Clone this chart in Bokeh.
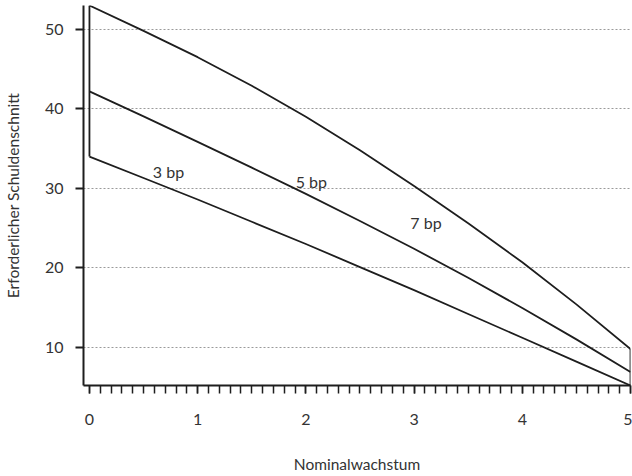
from bokeh.plotting import figure
from bokeh.models import Range1d, FixedTicker, ColumnDataSource
from bokeh.core.properties import value
from bokeh.embed import file_html
from bokeh.resources import INLINE

# --- data ---
growth = [0.0, 0.5, 1.0, 1.5, 2.0, 2.5, 3.0, 3.5, 4.0, 4.5, 5.0]
cut_3bp = [34.0, 31.3, 28.6, 25.8, 23.0, 20.1, 17.2, 14.2, 11.2, 8.2, 5.2]
cut_5bp = [42.2, 39.05, 35.85, 32.6, 29.3, 25.9, 22.4, 18.75, 14.95, 11.0, 6.9]
cut_7bp = [53.0, 49.8, 46.5, 42.9, 39.0, 34.8, 30.3, 25.6, 20.7, 15.4, 9.8]

label_texts = ["3 bp", "5 bp", "7 bp"]
label_x = [0.73, 2.05, 3.11]
label_y = [32.1, 30.9, 25.7]

x_ticks = [0, 1, 2, 3, 4, 5]
y_ticks = [10, 20, 30, 40, 50]
x_minor = [i / 10 for i in range(0, 51)]

FONT = "Lato"
TXT = "#333333"
LINE = "#1e1e1e"

p = figure(width=632, height=476, output_backend="svg", toolbar_location=None,
           x_range=Range1d(-0.055, 5.0), y_range=Range1d(5.2, 53.0),
           min_border_left=81, min_border_right=2, min_border_top=5,
           min_border_bottom=91)
p.outline_line_color = None
p.background_fill_color = "white"
p.border_fill_color = "white"

p.xgrid.visible = False
p.ygrid.ticker = FixedTicker(ticks=y_ticks)
p.ygrid.grid_line_color = "#9a9a9a"
p.ygrid.grid_line_dash = "2 2"
p.ygrid.grid_line_width = 1

# x axis
xa = p.xaxis[0]
xa.ticker = FixedTicker(ticks=x_ticks, minor_ticks=x_minor)
xa.axis_line_width = 2
xa.axis_line_color = LINE
xa.major_tick_in = 0
xa.major_tick_out = 8
xa.minor_tick_in = 0
xa.minor_tick_out = 8
xa.major_tick_line_width = 1.5
xa.minor_tick_line_width = 1.5
xa.major_tick_line_color = LINE
xa.minor_tick_line_color = LINE
xa.major_label_text_font = FONT
xa.major_label_text_font_size = "16px"
xa.major_label_text_color = TXT
xa.major_label_standoff = 20
xa.axis_label = "Nominalwachstum"
xa.axis_label_text_font = FONT
xa.axis_label_text_font_size = "15.5px"
xa.axis_label_text_font_style = "normal"
xa.axis_label_text_color = TXT
xa.axis_label_standoff = 27

# y axis
ya = p.yaxis[0]
ya.ticker = FixedTicker(ticks=y_ticks, minor_ticks=[])
ya.axis_line_width = 2
ya.axis_line_color = LINE
ya.major_tick_in = 0
ya.major_tick_out = 8
ya.minor_tick_in = 0
ya.minor_tick_out = 0
ya.major_tick_line_width = 2
ya.major_tick_line_color = LINE
ya.major_label_text_font = FONT
ya.major_label_text_font_size = "16px"
ya.major_label_text_color = TXT
ya.major_label_standoff = 12
ya.axis_label = "Erforderlicher Schuldenschnitt"
ya.axis_label_text_font = FONT
ya.axis_label_text_font_size = "15.5px"
ya.axis_label_text_font_style = "normal"
ya.axis_label_text_color = TXT
ya.axis_label_standoff = 20

# curves
for ys in (cut_3bp, cut_5bp, cut_7bp):
    p.line(growth, ys, line_color=LINE, line_width=1.8, line_join="round")

# envelope edges at both ends
p.line([growth[0], growth[0]], [cut_3bp[0], cut_7bp[0]], line_color=LINE, line_width=1.8)
p.line([growth[-1], growth[-1]], [cut_3bp[-1], cut_7bp[-1]], line_color=LINE, line_width=1.8)

src = ColumnDataSource(dict(x=label_x, y=label_y, t=label_texts))
p.text(x="x", y="y", text="t", source=src, text_font=value(FONT),
       text_font_size="16px", text_color=TXT, text_align="center",
       text_baseline="alphabetic")

open("out.html", "w").write(file_html(p, INLINE))
